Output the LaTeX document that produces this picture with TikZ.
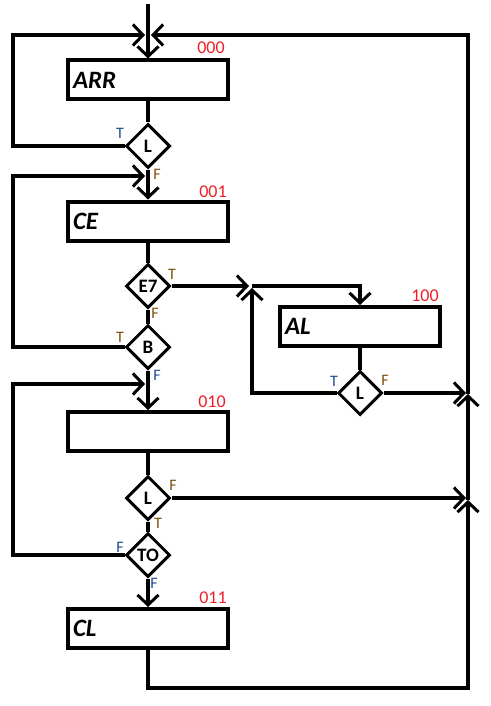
\documentclass[tikz,border=0pt]{standalone}
\usepackage{fontspec}
\setmainfont{Carlito}
\usetikzlibrary{arrows.meta,shapes.geometric}
\definecolor{numred}{RGB}{236,32,38}
\definecolor{tfblue}{RGB}{28,78,140}
\definecolor{tfbrown}{RGB}{128,78,12}

\begin{document}
\begin{tikzpicture}[x=1pt,y=1pt,
  wire/.style={line width=4pt},
  tip/.style={-{Straight Barb[length=10pt,width=21pt,line width=3pt]}},
  stepbox/.style={draw,line width=4pt,text width=150pt,inner xsep=5pt,inner ysep=0pt,
    minimum height=39pt,align=left,font=\fontsize{25}{25}\selectfont\bfseries\itshape},
  cond/.style={draw,diamond,line width=3pt,minimum width=44pt,minimum height=44pt,
    inner sep=0pt,font=\fontsize{19}{19}\selectfont\bfseries},
  code/.style={text=numred,inner sep=0pt,font=\fontsize{18}{18}\selectfont},
  tf/.style={inner sep=0pt,font=\fontsize{16}{16}\selectfont},
]
\useasboundingbox (0,0) rectangle (490,-706);

% steps
\node[stepbox] (arr)  at (148,-80)    {ARR};
\node[stepbox] (ce)   at (148,-221)   {CE};
\node[stepbox] (al)   at (360,-326.5) {AL};
\node[stepbox] (s010) at (148,-431.5) {\strut};
\node[stepbox] (cl)   at (148,-628.5) {CL};

% state codes
\node[code] (c000) at (211,-48)  {000};
\node[code] (c001) at (213,-192) {001};
\node[code] (c100) at (425,-296) {100};
\node[code] (c010) at (212,-402) {010};
\node[code] (c011) at (213,-598) {011};

% decisions
\node[cond] (dL1) at (148,-146) {L};
\node[cond] (dE7) at (148,-286) {E7};
\node[cond] (dB)  at (148,-347) {B};
\node[cond] (dAL) at (360,-393) {L};
\node[cond] (dL3) at (148,-498) {L};
\node[cond] (dTO) at (148,-555) {TO};

% branch labels
\node[tf,text=tfblue]  (t1) at (120,-133) {T};
\node[tf,text=tfbrown] (f1) at (157,-174) {F};
\node[tf,text=tfbrown] (t2) at (172,-274) {T};
\node[tf,text=tfbrown] (f2) at (155,-313) {F};
\node[tf,text=tfbrown] (t3) at (120,-337) {T};
\node[tf,text=tfblue]  (f3) at (157,-375) {F};
\node[tf,text=tfblue]  (t4) at (334,-381) {T};
\node[tf,text=tfbrown] (f4) at (385,-380) {F};
\node[tf,text=tfbrown] (f5) at (173,-485) {F};
\node[tf,text=tfbrown] (t5) at (158,-523) {T};
\node[tf,text=tfblue]  (f6) at (120,-547) {F};
\node[tf,text=tfblue]  (f7) at (154,-583) {F};

% junction points
\coordinate (start) at (148,-4);
\coordinate (lp1) at (13,-35);
\coordinate (m0l) at (145,-35);
\coordinate (m0r) at (151,-35);
\coordinate (lp2) at (13,-176);
\coordinate (m1)  at (145,-176);
\coordinate (lp3) at (13,-384);
\coordinate (m2)  at (145,-384);
\coordinate (jA)  at (249,-286);
\coordinate (aJ)  at (252,-286);
\coordinate (aT)  at (252,-288);
\coordinate (rb)  at (468,-688);
\coordinate (r3)  at (468,-500);
\coordinate (r3w) at (466,-498);
\coordinate (r2)  at (468,-394);
\coordinate (r2w) at (466,-393);
\coordinate (rt)  at (468,-35);

% main flow
\draw[wire,tip] (start) -- (arr.north);
\draw[wire] (arr.south) -- (dL1.north);
\draw[wire,tip] (dL1.west) -| (lp1) -- (m0l);
\draw[wire,tip] (dL1.south) -- (ce.north);
\draw[wire] (ce.south) -- (dE7.north);
\draw[wire] (dE7.south) -- (dB.north);
\draw[wire,tip] (dB.west) -| (lp2) -- (m1);
\draw[wire,tip] (dB.south) -- (s010.north);
\draw[wire] (s010.south) -- (dL3.north);
\draw[wire] (dL3.south) -- (dTO.north);
\draw[wire,tip] (dTO.west) -| (lp3) -- (m2);
\draw[wire,tip] (dTO.south) -- (cl.north);

% alarm branch
\draw[wire,tip] (dE7.east) -- (jA);
\draw[wire,tip] (aJ) -| (al.north);
\draw[wire] (al.south) -- (dAL.north);
\draw[wire,tip] (dAL.west) -| (aT);
\draw[wire,tip] (dAL.east) -- (r2w);

% return path
\draw[wire,tip] (dL3.east) -- (r3w);
\draw[wire,tip] (cl.south) |- (rb) -- (r3);
\draw[wire,tip] (r3) -- (r2);
\draw[wire,tip] (r2) -- (rt) -- (m0r);
\end{tikzpicture}
\end{document}
